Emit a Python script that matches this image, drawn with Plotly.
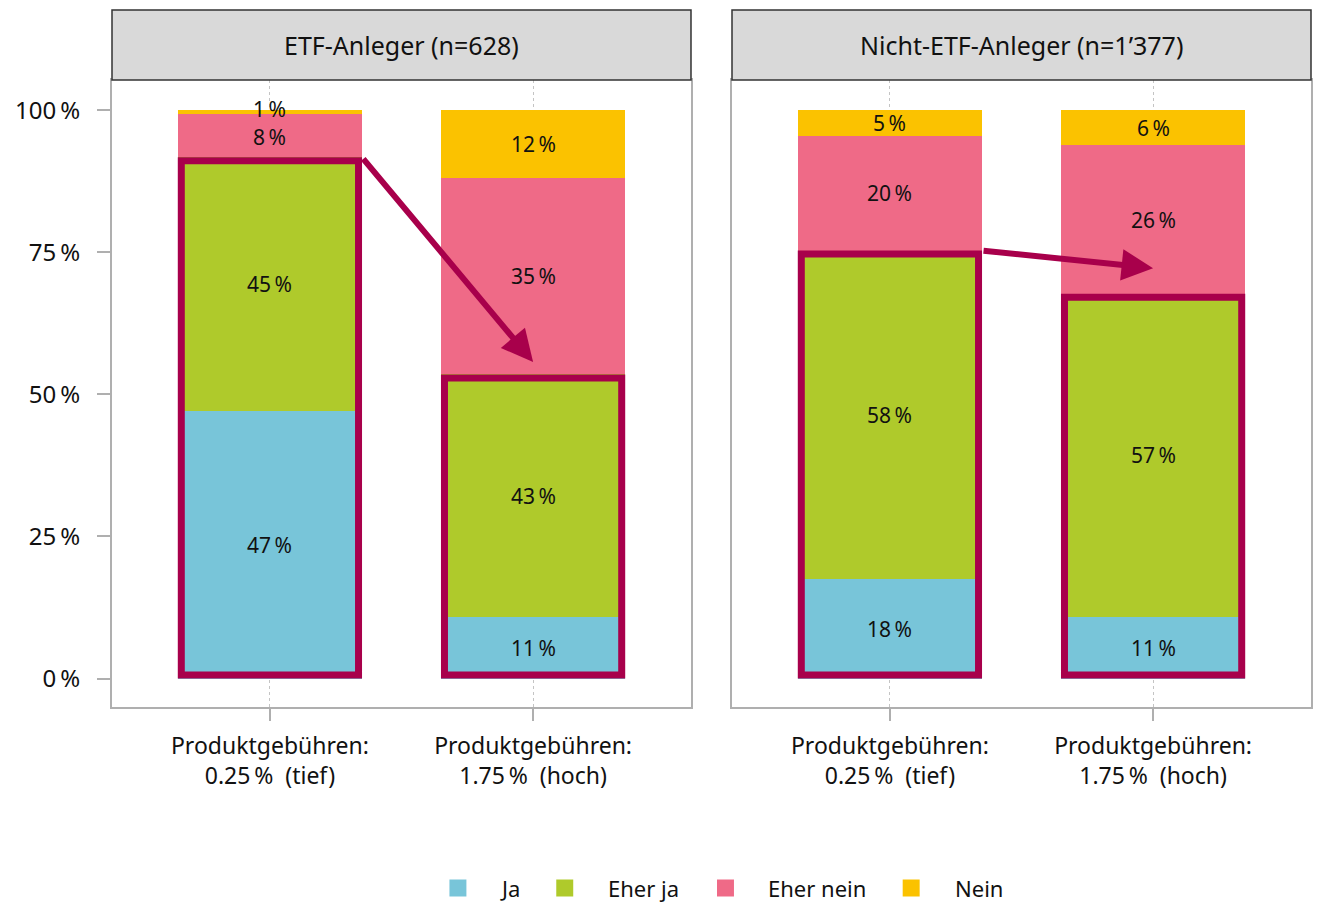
import numpy as np
import plotly.graph_objects as go
from plotly.subplots import make_subplots

# ---- data ----
panels = ["ETF-Anleger (n=628)", "Nicht-ETF-Anleger (n=1\u2019377)"]
categories = ["Produktgebühren:<br>0.25\u2009%  (tief)", "Produktgebühren:<br>1.75\u2009%  (hoch)"]
answers = ["Ja", "Eher ja", "Eher nein", "Nein"]

etf_ja = [47.1, 10.9]
etf_eherja = [44.6, 42.6]
etf_ehernein = [7.7, 34.6]
etf_nein = [0.6, 11.9]

non_ja = [17.6, 10.9]
non_eherja = [57.7, 56.8]
non_ehernein = [20.1, 26.1]
non_nein = [4.6, 6.2]

arrow_target = [55.7, 72.2]   # arrow tip level on the 'hoch' bar, per panel

yticks = [0, 25, 50, 75, 100]
yticktext = ["0\u2009%", "25\u2009%", "50\u2009%", "75\u2009%", "100\u2009%"]

colors = ["#78C5D9", "#AFCA2B", "#EF6A87", "#FBC200"]
accent = "#A8004B"
FONT = "Noto Sans"
TXT = "#111111"

panel_data = [
    [etf_ja, etf_eherja, etf_ehernein, etf_nein],
    [non_ja, non_eherja, non_ehernein, non_nein],
]

fig = make_subplots(rows=1, cols=2, shared_yaxes=False, horizontal_spacing=0.0342)
xpos = [1, 2]
bw = 0.7

for p, series in enumerate(panel_data):
    col = p + 1
    xr = f"x{'' if col == 1 else col}"
    yr = f"y{'' if col == 1 else col}"
    cum = np.zeros(2)
    for i, vals in enumerate(series):
        vals = np.array(vals)
        fig.add_trace(go.Bar(
            x=xpos, y=vals, width=bw, name=answers[i], marker_color=colors[i],
            marker_line_width=0, showlegend=False, hoverinfo="skip",
        ), row=1, col=col)
        centers = cum + vals / 2
        for k in range(2):
            shift = 0
            if vals[k] < 3:
                shift = 3
            elif vals[k] < 10 and i == 2:
                shift = -2
            fig.add_annotation(
                x=xpos[k], y=centers[k], xref=xr, yref=yr, yshift=shift,
                text=f"{int(round(vals[k]))}\u2009%", showarrow=False,
                font=dict(size=21, color=TXT, family=FONT),
            )
        cum = cum + vals

    # outlines around Ja + Eher ja
    top = np.array(series[0]) + np.array(series[1])
    dx = 3.5 / 263.6
    dy = 3.5 / 5.69
    for k in range(2):
        fig.add_shape(type="rect", xref=xr, yref=yr,
                      x0=xpos[k] - bw / 2 + dx, x1=xpos[k] + bw / 2 - dx,
                      y0=0 + dy, y1=top[k] - dy,
                      line=dict(color=accent, width=7), fillcolor="rgba(0,0,0,0)", layer="above")
    # arrow
    fig.add_annotation(
        x=xpos[1], y=arrow_target[p], ax=xpos[0] + bw / 2, ay=top[0],
        xref=xr, yref=yr, axref=xr, ayref=yr, text="", showarrow=True,
        arrowhead=2, arrowsize=1.05, arrowwidth=6, arrowcolor=accent, standoff=0,
    )

    # strip
    dom = "x domain" if col == 1 else "x2 domain"
    fig.add_shape(type="rect", xref=dom, yref="paper", x0=0, x1=1, y0=1.0, y1=1 + 70 / 627,
                  fillcolor="#D9D9D9", line=dict(color="#333333", width=1.5), layer="above")
    fig.add_annotation(xref=dom, yref="paper", x=0.5, y=1 + 35 / 627, text=panels[p],
                       showarrow=False, font=dict(size=25, color=TXT, family=FONT),
                       xanchor="center", yanchor="middle")

# ---- legend (manual, bottom) ----
leg_sq_px = [450, 557, 718, 904]
leg_txt_px = [500, 608, 768, 955]
leg_y = (707 - 888) / 627
for i, name in enumerate(answers):
    x0 = (leg_sq_px[i] - 112) / 1201
    x1 = (leg_sq_px[i] + 17 - 112) / 1201
    fig.add_shape(type="rect", xref="paper", yref="paper", x0=x0, x1=x1,
                  y0=leg_y - 8.5 / 627, y1=leg_y + 8.5 / 627,
                  fillcolor=colors[i], line=dict(width=0))
    fig.add_annotation(xref="paper", yref="paper", x=(leg_txt_px[i] - 112) / 1201, y=leg_y,
                       text=name, showarrow=False, xanchor="left", yanchor="middle",
                       borderpad=0, font=dict(size=22, color=TXT, family=FONT))

axis_common = dict(showline=True, linecolor="#AFAFAF", linewidth=2, mirror=True,
                   zeroline=False)
for col in (1, 2):
    fig.update_xaxes(range=[0.4, 2.6], tickmode="array", tickvals=xpos, ticktext=categories,
                     ticks="outside", ticklen=12, tickwidth=2, tickcolor="#AFAFAF",
                     showgrid=True, gridcolor="#C4C4C4", griddash="dot", gridwidth=1,
                     tickfont=dict(size=23, color=TXT, family=FONT), ticklabelstandoff=5,
                     row=1, col=col, **axis_common)
    fig.update_yaxes(range=[-5, 105.3], tickmode="array", tickvals=yticks, ticktext=yticktext,
                     showgrid=False, row=1, col=col, **axis_common)

fig.update_yaxes(ticks="outside", ticklen=13, tickwidth=2, tickcolor="#AFAFAF",
                 tickfont=dict(size=24, color=TXT, family=FONT), ticklabelstandoff=12,
                 row=1, col=1)
fig.update_yaxes(showticklabels=False, ticks="", row=1, col=2)

fig.update_layout(
    width=1319, height=903, barmode="stack",
    margin=dict(l=112, r=6, t=80, b=196),
    plot_bgcolor="white", paper_bgcolor="white",
    font=dict(family=FONT, size=20, color=TXT),
    showlegend=False,
    bargap=0,
)

fig.write_html("out.html", config={"displayModeBar": False},
               post_script="document.body.style.margin='0';")
